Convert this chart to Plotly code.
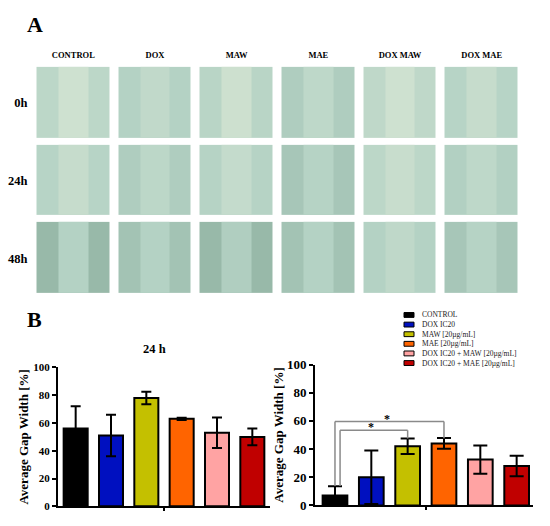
import plotly.graph_objects as go

# panel A: scratch assay photos; tone 0 = light, 1 = dark
treatments = ["CONTROL", "DOX", "MAW", "MAE", "DOX MAW", "DOX MAE"]
timepoints = ["0h", "24h", "48h"]
edge_tone = [
    [0.40, 0.50, 0.44, 0.55, 0.36, 0.46],
    [0.46, 0.55, 0.48, 0.62, 0.40, 0.52],
    [0.76, 0.66, 0.76, 0.66, 0.50, 0.62],
]
scratch_tone = [
    [0.18, 0.34, 0.20, 0.38, 0.18, 0.28],
    [0.28, 0.40, 0.30, 0.48, 0.26, 0.38],
    [0.50, 0.50, 0.54, 0.50, 0.36, 0.48],
]

# panel B
groups = ["CONTROL", "DOX IC20", "MAW [20µg/mL]", "MAE [20µg/mL]",
          "DOX IC20 + MAW [20µg/mL]", "DOX IC20 + MAE [20µg/mL]"]
colors = ["#000000", "#0010c0", "#c4c000", "#ff6400", "#ffa3a3", "#c00000"]
gap_24h = [56, 51, 78, 63, 53, 50]
err_24h = [16, 15, 4.5, 0.8, 11, 6]
gap_48h = [7, 20, 42, 44, 32.5, 28]
err_48h = [6.5, 19, 5.5, 3.8, 10, 7.3]

# significance brackets on the 48 h chart: (left idx, right idx, height, left leg end, right leg end)
brackets = [(0.0, 3, 59.5, 13.8, 47.6), (0.14, 2, 53.3, 13.8, 47.4)]
stars_x = [1.43, 1.0]

serif = "Liberation Serif"
W, H = 550, 526
tile_scale = [[0, "#dde9d7"], [0.5, "#b4d2c4"], [1, "#7ea291"]]


def px_x(p):
    return p / W


def px_y(p):
    return 1 - p / H


fig = go.Figure()

# whole tiles, then the lighter scratch band down the middle of each
for tone, xgap in [(edge_tone, 9), (scratch_tone, 52)]:
    fig.add_trace(go.Heatmap(
        z=tone, x=treatments, y=timepoints, colorscale=tile_scale,
        zmin=0, zmax=1, showscale=False, xgap=xgap, ygap=7, hoverinfo="skip",
        xaxis="x", yaxis="y",
    ))

fig.add_trace(go.Bar(
    x=groups, y=gap_24h, xaxis="x2", yaxis="y2", width=0.68,
    marker=dict(color=colors, line=dict(color="black", width=2)),
    error_y=dict(type="data", array=err_24h, color="black", thickness=2, width=5),
    showlegend=False,
))

fig.add_trace(go.Bar(
    x=groups, y=gap_48h, xaxis="x3", yaxis="y3", width=0.68,
    marker=dict(color=colors, line=dict(color="black", width=2)),
    error_y=dict(type="data", array=err_48h, color="black", thickness=2, width=7),
    showlegend=False,
))

shapes = []
annotations = []

for (a, b, h, la, lb), sx in zip(brackets, stars_x):
    for x0, y0, x1, y1 in [(a, h, b, h), (a, la, a, h), (b, lb, b, h)]:
        shapes.append(dict(type="line", xref="x3", yref="y3", x0=x0, x1=x1, y0=y0, y1=y1,
                           line=dict(color="#8a8a8a", width=1.5)))
    annotations.append(dict(text="*", xref="x3", yref="y3", x=sx, y=h, yshift=3,
                            xanchor="center", yanchor="middle", showarrow=False,
                            font=dict(family=serif, size=12, color="black", weight="bold")))

# legend drawn by hand (plotly's legend rows can't be this tight)
for i, (g, c) in enumerate(zip(groups, colors)):
    yc = 317 + i * 9.9
    shapes.append(dict(type="rect", xref="paper", yref="paper",
                       x0=px_x(404), x1=px_x(414), y0=px_y(yc + 2.5), y1=px_y(yc - 2.5),
                       fillcolor=c, line=dict(color="black", width=1)))
    annotations.append(dict(text=g, xref="paper", yref="paper", x=px_x(420), y=px_y(yc),
                            xanchor="left", yanchor="middle", showarrow=False,
                            font=dict(family=serif, size=7.5, color="#222222")))

for txt, x, y in [("A", 35, 18), ("B", 35, 322)]:
    annotations.append(dict(text=txt, xref="paper", yref="paper", x=px_x(x), y=px_y(y),
                            xanchor="center", yanchor="middle", showarrow=False,
                            font=dict(family=serif, size=22, color="black", weight="bold")))

annotations.append(dict(text="24 h", xref="paper", yref="paper", x=px_x(154), y=px_y(352),
                        xanchor="center", yanchor="middle", showarrow=False,
                        font=dict(family=serif, size=12.5, color="black", weight="bold")))

bar_x = dict(showgrid=False, zeroline=False, showline=True, linecolor="black", linewidth=2,
             tickvals=[2.5], ticktext=[""], ticks="outside", ticklen=3, tickwidth=1.5,
             tickcolor="black", fixedrange=True)


def bar_y(size, domain, standoff):
    return dict(domain=domain, range=[0, 100], tickvals=[0, 20, 40, 60, 80, 100],
                showgrid=False, zeroline=False, showline=True, linecolor="black", linewidth=2,
                ticks="outside", ticklen=4, tickwidth=2, tickcolor="black", fixedrange=True,
                tickfont=dict(family=serif, size=size, color="black", weight="bold"),
                title=dict(text="Average Gap Width [%]", standoff=standoff,
                           font=dict(family=serif, size=13, color="black", weight="bold")))


fig.update_layout(
    width=W, height=H, margin=dict(l=0, r=0, t=0, b=0),
    paper_bgcolor="white", plot_bgcolor="white", bargap=0.3,
    xaxis=dict(domain=[px_x(32.5), px_x(522.5)], side="top", showgrid=False, zeroline=False,
               showline=False, ticks="", anchor="y", ticklabelstandoff=3, fixedrange=True,
               tickfont=dict(family=serif, size=8.5, color="black", weight="bold")),
    yaxis=dict(domain=[px_y(298.5), px_y(58.5)], autorange="reversed", showgrid=False,
               zeroline=False, showline=False, ticks="", ticklabelstandoff=4, anchor="x",
               fixedrange=True,
               tickfont=dict(family=serif, size=12.5, color="black", weight="bold")),
    xaxis2=dict(domain=[px_x(58), px_x(270)], anchor="y2", range=[-0.5, 5.5], **bar_x),
    yaxis2=dict(anchor="x2", **bar_y(11, [px_y(514), px_y(371)], 2)),
    xaxis3=dict(domain=[px_x(315), px_x(533)], anchor="y3", range=[-0.55, 5.45], **bar_x),
    yaxis3=dict(anchor="x3", **bar_y(13, [px_y(513), px_y(368)], 0)),
    shapes=shapes, annotations=annotations,
)

# the page's default body margin would push the figure 8px off
fig.write_html("out.html", config={"displayModeBar": False},
               post_script="document.body.style.margin='0px';")
